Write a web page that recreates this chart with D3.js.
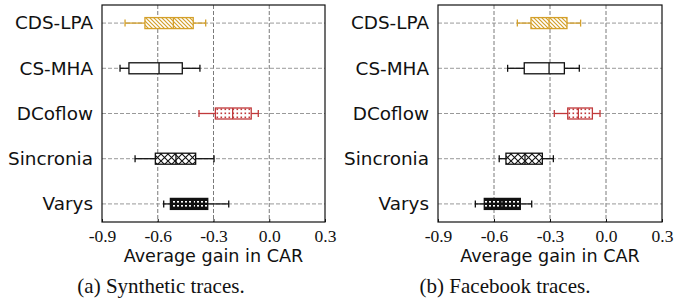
<!DOCTYPE html>
<html>
<head>
<meta charset="utf-8">
<script src="https://cdn.jsdelivr.net/npm/d3@7"></script>
<style>
  body { margin: 0; background: #fff; }
  svg { display: block; }
</style>
</head>
<body>
<div id="chart"></div>
<script>
"use strict";

// categories top -> bottom
var methods = ['CDS-LPA', 'CS-MHA', 'DCoflow', 'Sincronia', 'Varys'];
var xTicks = [-0.9, -0.6, -0.3, 0.0, 0.3];
var captions = ['(a) Synthetic traces.', '(b) Facebook traces.'];

// [whiskerLow, q1, median, q3, whiskerHigh]
var synthetic = [
  [-0.776, -0.669, -0.516, -0.409, -0.342],
  [-0.803, -0.755, -0.593, -0.468, -0.373],
  [-0.378, -0.290, -0.197, -0.097, -0.059],
  [-0.722, -0.613, -0.502, -0.396, -0.297],
  [-0.568, -0.532, -0.409, -0.331, -0.218]
];
var facebook = [
  [-0.475, -0.402, -0.305, -0.209, -0.136],
  [-0.527, -0.438, -0.305, -0.223, -0.143],
  [-0.277, -0.205, -0.148, -0.073, -0.032],
  [-0.572, -0.536, -0.434, -0.341, -0.282],
  [-0.700, -0.652, -0.557, -0.459, -0.398]
];

var colors = {'CDS-LPA': '#d4a02a', 'CS-MHA': '#111', 'DCoflow': '#c0393b', 'Sincronia': '#111', 'Varys': '#111'};

var W = 696, H = 301;
var svg = d3.select('#chart').append('svg').attr('width', W).attr('height', H);
var defs = svg.append('defs');

// hatch patterns
var p1 = defs.append('pattern').attr('id', 'hatchDiag').attr('patternUnits', 'userSpaceOnUse')
  .attr('width', 4).attr('height', 4);
p1.append('rect').attr('width', 4).attr('height', 4).attr('fill', '#fff');
p1.append('path').attr('d', 'M-1,-1L5,5M-1,3L1,5M3,-1L5,1').attr('stroke', colors['CDS-LPA']).attr('stroke-width', 1.2);

var p2 = defs.append('pattern').attr('id', 'hatchDots').attr('patternUnits', 'userSpaceOnUse')
  .attr('width', 4).attr('height', 4);
p2.append('rect').attr('width', 4).attr('height', 4).attr('fill', '#fff');
p2.append('rect').attr('x', 0.5).attr('y', 0.5).attr('width', 1.6).attr('height', 1.6).attr('fill', colors['DCoflow']);

var p3 = defs.append('pattern').attr('id', 'hatchCross').attr('patternUnits', 'userSpaceOnUse')
  .attr('width', 7).attr('height', 7);
p3.append('rect').attr('width', 7).attr('height', 7).attr('fill', '#fff');
p3.append('path').attr('d', 'M0,0L7,7M7,0L0,7').attr('stroke', '#111').attr('stroke-width', 1.1);

var p4 = defs.append('pattern').attr('id', 'hatchDense').attr('patternUnits', 'userSpaceOnUse')
  .attr('width', 4).attr('height', 4);
p4.append('rect').attr('width', 4).attr('height', 4).attr('fill', '#111');
p4.append('rect').attr('x', 1).attr('y', 1).attr('width', 2).attr('height', 1.6).attr('fill', '#fff');

var fills = {'CDS-LPA': 'url(#hatchDiag)', 'CS-MHA': '#fff', 'DCoflow': 'url(#hatchDots)',
  'Sincronia': 'url(#hatchCross)', 'Varys': 'url(#hatchDense)'};

var panels = [
  {data: synthetic, x0: 102, x1: 325, cap: captions[0], capX: 161},
  {data: facebook, x0: 438, x1: 662, cap: captions[1], capX: 505}
];
var plotTop = 5, plotBottom = 222, boxH = 11;

panels.forEach(function (pn) {
  var x = d3.scaleLinear().domain([-0.9, 0.3]).range([pn.x0, pn.x1]);
  var y = d3.scalePoint().domain(methods).range([plotTop, plotBottom]).padding(0.4);
  var g = svg.append('g');

  // grid
  g.selectAll('.vg').data(xTicks.slice(1, -1)).join('line')
    .attr('x1', function (d) { return x(d); }).attr('x2', function (d) { return x(d); })
    .attr('y1', plotTop).attr('y2', plotBottom)
    .attr('stroke', '#7a7a7a').attr('stroke-width', 1).attr('stroke-dasharray', '4,2');
  g.selectAll('.hg').data(methods).join('line')
    .attr('x1', pn.x0).attr('x2', pn.x1)
    .attr('y1', function (d) { return y(d); }).attr('y2', function (d) { return y(d); })
    .attr('stroke', '#999').attr('stroke-width', 1).attr('stroke-dasharray', '4,2');

  // boxes
  methods.forEach(function (m, i) {
    var v = pn.data[i], cy = y(m), c = colors[m];
    var bg = g.append('g');
    bg.append('line').attr('x1', x(v[0])).attr('x2', x(v[1])).attr('y1', cy).attr('y2', cy)
      .attr('stroke', c).attr('stroke-width', 1.3);
    bg.append('line').attr('x1', x(v[3])).attr('x2', x(v[4])).attr('y1', cy).attr('y2', cy)
      .attr('stroke', c).attr('stroke-width', 1.3);
    [v[0], v[4]].forEach(function (w) {
      bg.append('line').attr('x1', x(w)).attr('x2', x(w)).attr('y1', cy - 3.5).attr('y2', cy + 3.5)
        .attr('stroke', c).attr('stroke-width', 1.3);
    });
    bg.append('rect').attr('x', x(v[1])).attr('y', cy - boxH / 2)
      .attr('width', x(v[3]) - x(v[1])).attr('height', boxH)
      .attr('fill', fills[m]).attr('stroke', c).attr('stroke-width', 1.3);
    bg.append('line').attr('x1', x(v[2])).attr('x2', x(v[2])).attr('y1', cy - boxH / 2).attr('y2', cy + boxH / 2)
      .attr('stroke', c).attr('stroke-width', 1.3);
  });

  // frame
  g.append('rect').attr('x', pn.x0).attr('y', plotTop).attr('width', pn.x1 - pn.x0).attr('height', plotBottom - plotTop)
    .attr('fill', 'none').attr('stroke', '#111').attr('stroke-width', 1.2);

  // x axis
  var xa = g.append('g').attr('transform', 'translate(0,' + plotBottom + ')')
    .call(d3.axisBottom(x).tickValues(xTicks).tickSize(-3).tickPadding(8)
      .tickFormat(function (d) { return d3.format('.1f')(d).replace('−', '-'); }));
  xa.select('.domain').remove();
  xa.selectAll('line').attr('stroke', '#111');
  xa.selectAll('text').attr('font-family', '"Liberation Serif", "Times New Roman", serif')
    .attr('font-size', 17.5).attr('fill', '#111');

  // y labels
  var ya = g.append('g').attr('transform', 'translate(' + pn.x0 + ',0)')
    .call(d3.axisLeft(y).tickSize(0).tickPadding(9));
  ya.select('.domain').remove();
  ya.selectAll('text').attr('font-family', '"DejaVu Sans", sans-serif')
    .attr('font-size', 18.4).attr('fill', '#111');

  g.append('text').attr('x', (pn.x0 + pn.x1) / 2).attr('y', 262)
    .attr('text-anchor', 'middle').attr('font-family', '"DejaVu Sans", sans-serif')
    .attr('font-size', 17.6).attr('fill', '#111').text('Average gain in CAR');

  g.append('text').attr('x', pn.capX).attr('y', 293)
    .attr('text-anchor', 'middle').attr('font-family', '"Liberation Serif", "Times New Roman", serif')
    .attr('font-size', 21).attr('fill', '#111').text(pn.cap);
});
</script>
</body>
</html>
